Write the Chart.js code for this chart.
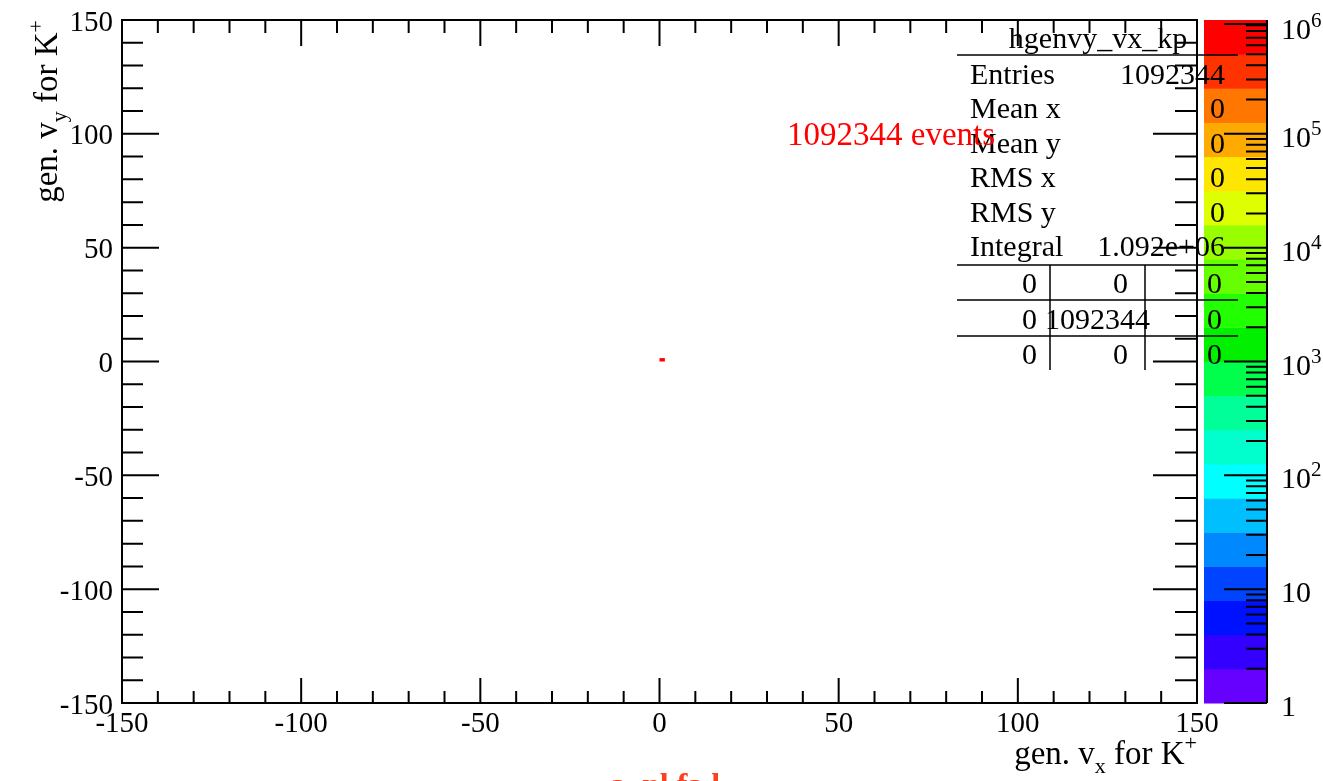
<!DOCTYPE html>
<html>
<head>
<meta charset="utf-8">
<script src="https://cdn.jsdelivr.net/npm/chart.js@4.4.1/dist/chart.umd.min.js"></script>
<style>
body{margin:0;background:#fff}
canvas{display:block}
</style>
</head>
<body>
<canvas id="hist" width="1323" height="781"></canvas>
<script>
// axis ranges
const xRange = [-150, 150]
const yRange = [-150, 150]
const zRange = [1, 1e6]
const majorStep = 50
const minorStep = 10

// filled bins of the 2D histogram (lower bin edge + content)
const binX = [0]
const binY = [0]
const binCount = [1092344]
const binWidth = 1.5

// colour levels of the z axis, lowest first
const palette = ['#6600ff','#3300ff','#0011ff','#0044ff','#0088ff','#00bfff','#00ffff','#00ffcc','#00ff99','#00ff4c',
                 '#00f000','#22ff00','#66ff00','#99ff00','#ddff00','#ffe600','#ffaa00','#ff7700','#ff3300','#ff0000']

// z axis labels
const zTicks = [1, 10, 100, 1000, 1e4, 1e5, 1e6]
const zTickExp = ['', '', '2', '3', '4', '5', '6']

// stats box
const histName = 'hgenvy_vx_kp'
const statNames = ['Entries', 'Mean x', 'Mean y', 'RMS x', 'RMS y', 'Integral']
const statValues = ['1092344', '0', '0', '0', '0', '1.092e+06']
const overflowCells = [['0', '0', '0'], ['0', '1092344', '0'], ['0', '0', '0']]
const eventsLabel = '1092344 events'
const footLabel = 'a  nl fa l'

const serif = '"Liberation Serif", "DejaVu Serif", serif'
const font = (s) => s + 'px ' + serif

// text with a raised / lowered smaller part, returns end x
function drawPieces(ctx, pieces, x, y){
    pieces.forEach((p)=>{
        ctx.font = font(p.size)
        ctx.fillText(p.text, x, y + (p.dy || 0))
        x += ctx.measureText(p.text).width
    })
    return x
}
function piecesWidth(ctx, pieces){
    let w = 0
    pieces.forEach((p)=>{ ctx.font = font(p.size); w += ctx.measureText(p.text).width })
    return w
}

const histPlugin = {
    id: 'histPlugin',
    beforeDatasetsDraw(chart){
        const {ctx} = chart
        const {x, y} = chart.scales
        const top = Math.log10(zRange[1])
        binCount.forEach((n, i)=>{
            let level = Math.floor(Math.log10(n) / top * palette.length)
            level = Math.max(0, Math.min(palette.length - 1, level))
            const x0 = x.getPixelForValue(binX[i])
            const x1 = x.getPixelForValue(binX[i] + binWidth)
            const y0 = y.getPixelForValue(binY[i])
            const y1 = y.getPixelForValue(binY[i] + binWidth)
            ctx.fillStyle = palette[level]
            ctx.fillRect(x0, y1, x1 - x0, y0 - y1)
        })
    },
    afterDraw(chart){
        const {ctx, chartArea: a} = chart
        const {x, y, z} = chart.scales
        ctx.save()
        ctx.strokeStyle = '#000'
        ctx.fillStyle = '#000'
        ctx.lineWidth = 2

        // frame
        ctx.strokeRect(a.left, a.top, a.right - a.left, a.bottom - a.top)

        // ticks on all four sides
        ctx.beginPath()
        for(let v = xRange[0]; v <= xRange[1]; v += minorStep){
            const major = v % majorStep == 0
            const px = x.getPixelForValue(v)
            ctx.moveTo(px, a.bottom); ctx.lineTo(px, a.bottom - (major ? 25 : 12))
            ctx.moveTo(px, a.top); ctx.lineTo(px, a.top + (major ? 26 : 13))
        }
        for(let v = yRange[0]; v <= yRange[1]; v += minorStep){
            const major = v % majorStep == 0
            const py = y.getPixelForValue(v)
            ctx.moveTo(a.left, py); ctx.lineTo(a.left + (major ? 37 : 21), py)
            ctx.moveTo(a.right, py); ctx.lineTo(a.right - (major ? 44 : 22), py)
        }
        ctx.stroke()

        // colour scale
        const cbLeft = 1204, cbRight = 1267
        const top = Math.log10(zRange[1])
        palette.forEach((c, i)=>{
            const lo = z.getPixelForValue(Math.pow(10, top * i / palette.length))
            const hi = z.getPixelForValue(Math.pow(10, top * (i + 1) / palette.length))
            ctx.fillStyle = c
            ctx.fillRect(cbLeft, hi, cbRight - cbLeft, lo - hi + 0.5)
        })
        ctx.fillStyle = '#000'
        ctx.beginPath()
        ctx.moveTo(cbRight, z.top); ctx.lineTo(cbRight, z.bottom)
        for(let d = 0; d < top; d++){
            for(let m = 1; m < 10; m++){
                const py = z.getPixelForValue(m * Math.pow(10, d))
                ctx.moveTo(cbRight, py); ctx.lineTo(cbRight - (m == 1 ? 43 : 21), py)
            }
        }
        const pTop = z.getPixelForValue(zRange[1])
        ctx.moveTo(cbRight, pTop + 4); ctx.lineTo(cbRight - 43, pTop + 4)
        ctx.stroke()

        ctx.textBaseline = 'alphabetic'
        ctx.textAlign = 'left'
        zTicks.forEach((v, i)=>{
            const py = Math.max(z.getPixelForValue(v) + 3, 29)
            const base = i == 0 ? '1' : '10'
            const pieces = [{text: base, size: 30}]
            if(zTickExp[i]) pieces.push({text: zTickExp[i], size: 21, dy: -12})
            drawPieces(ctx, pieces, 1281, py + 10)
        })

        // stats box
        ctx.lineWidth = 1.5
        ctx.beginPath()
        ;[55, 265, 300, 336].forEach((ly)=>{ ctx.moveTo(957, ly); ctx.lineTo(1238, ly) })
        ;[1050, 1145].forEach((lx)=>{ ctx.moveTo(lx, 265); ctx.lineTo(lx, 370) })
        ctx.stroke()

        ctx.font = font(30)
        ctx.textAlign = 'center'
        ctx.fillText(histName, 1098, 48)
        statNames.forEach((name, i)=>{
            const by = 84 + 34.4 * i
            ctx.textAlign = 'left'
            ctx.fillText(name, 970, by)
            ctx.textAlign = 'right'
            ctx.fillText(statValues[i], 1225, by)
        })
        const cellRight = [1037, 1128, 1222]
        overflowCells.forEach((row, r)=>{
            const by = 293 + 35.5 * r
            row.forEach((cell, c)=>{
                const cx = (r == 1 && c == 1) ? 1150 : cellRight[c]
                ctx.fillText(cell, cx, by)
            })
        })

        // event count
        ctx.textAlign = 'left'
        ctx.fillStyle = '#ff0000'
        ctx.font = font(33)
        ctx.fillText(eventsLabel, 787, 145)

        // note below the frame
        ctx.fillStyle = '#ff4020'
        ctx.font = 'bold ' + font(32)
        ctx.fillText(footLabel, 610, 795)

        // axis titles
        ctx.fillStyle = '#000'
        const xTitle = [{text: 'gen. v', size: 33}, {text: 'x', size: 22, dy: 9}, {text: ' for K', size: 33}, {text: '+', size: 22, dy: -14}]
        drawPieces(ctx, xTitle, a.right - piecesWidth(ctx, xTitle), 764)

        const yTitle = [{text: 'gen. v', size: 33}, {text: 'y', size: 22, dy: 9}, {text: ' for K', size: 33}, {text: '+', size: 22, dy: -14}]
        ctx.translate(57, a.top + piecesWidth(ctx, yTitle))
        ctx.rotate(-Math.PI / 2)
        drawPieces(ctx, yTitle, 0, 0)
        ctx.restore()
    }
}

function renderHist(){
    new Chart(document.querySelector('#hist'), {
        type: 'scatter',
        data: {
            datasets: [{
                data: binX.map((bx, i)=>({x: bx, y: binY[i]})),
                pointRadius: 0
            }]
        },
        options: {
            responsive: false,
            animation: false,
            devicePixelRatio: 1,
            layout: {autoPadding: false, padding: {top: 20, right: 126, bottom: 0, left: 0}},
            plugins: {legend: {display: false}, tooltip: {enabled: false}},
            scales: {
                x: {
                    type: 'linear', min: xRange[0], max: xRange[1],
                    grid: {display: false, drawTicks: false}, border: {display: false},
                    ticks: {stepSize: majorStep, padding: 4, color: '#000', font: {family: serif, size: 29}, callback: (v)=>String(v)},
                    afterFit: (s)=>{ s.height = 78 }
                },
                y: {
                    type: 'linear', min: yRange[0], max: yRange[1],
                    grid: {display: false, drawTicks: false}, border: {display: false},
                    ticks: {stepSize: majorStep, padding: 9, labelOffset: 3, color: '#000', font: {family: serif, size: 29, lineHeight: 0.6}, callback: (v)=>String(v)},
                    afterFit: (s)=>{ s.width = 122 }
                },
                z: {type: 'logarithmic', min: zRange[0], max: zRange[1], display: false, position: 'right'}
            }
        },
        plugins: [histPlugin]
    })
}

renderHist()
</script>
</body>
</html>
